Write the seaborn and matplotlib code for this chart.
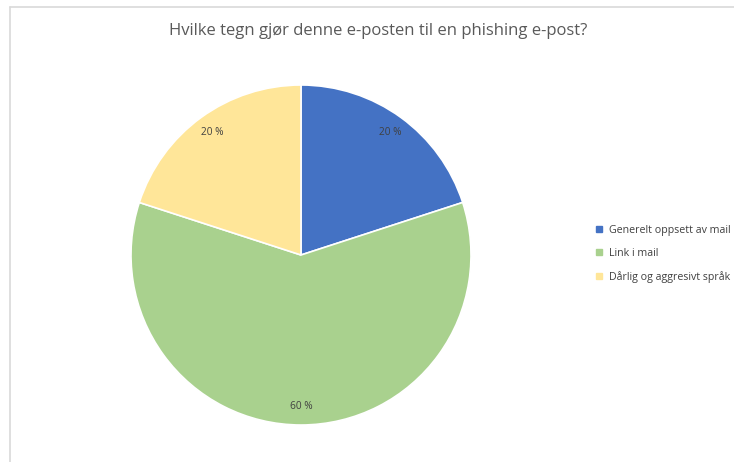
import matplotlib
matplotlib.use("Agg")
from matplotlib import pyplot as plt
from matplotlib.lines import Line2D
import seaborn as sns

# Data
categories = ['Generelt oppsett av mail', 'Link i mail', 'Dårlig og aggresivt språk']
shares = [20, 60, 20]
colors = ['#4472C4', '#A9D18E', '#FFE699']
title = 'Hvilke tegn gjør denne e-posten til en phishing e-post?'

sns.set_theme(style='white')
plt.rcParams['font.family'] = ['Open Sans', 'DejaVu Sans']

fig = plt.figure(figsize=(7.34, 4.62), dpi=100)

# Chart border (top and left edge visible in the reference)
fig.add_artist(Line2D([10 / 734, 10 / 734], [0, 1 - 7 / 462], color='#D9D9D9', lw=1.2))
fig.add_artist(Line2D([10 / 734, 1], [1 - 7 / 462, 1 - 7 / 462], color='#D9D9D9', lw=1.2))

ax = fig.add_axes([131 / 734, 37 / 462, 340 / 734, 340 / 462])
wedges, texts, autotexts = ax.pie(
    shares,
    colors=colors,
    startangle=90,
    counterclock=False,
    autopct=lambda p: f'{p:.0f} %',
    pctdistance=0.89,
    radius=1.0,
    wedgeprops=dict(edgecolor='white', linewidth=1.2),
    textprops=dict(color='#404040', fontsize=7.3),
)
ax.set_xlim(-1, 1)
ax.set_ylim(-1, 1)
ax.set_aspect('equal')
ax.axis('off')

fig.text(378 / 734, 1 - 31 / 462, title, ha='center', va='center',
         fontsize=12, color='#595959')

handles = [Line2D([0], [0], marker='s', linestyle='', markersize=4.5,
                  markerfacecolor=c, markeredgecolor=c) for c in colors]
fig.legend(handles, categories, loc='center left',
           bbox_to_anchor=(589 / 734, 1 - 254 / 462), frameon=False,
           fontsize=7.7, labelcolor='#404040', handlelength=0.8,
           handletextpad=0.6, labelspacing=1.15, borderpad=0)

fig.savefig('out.png', dpi=100, facecolor='white')
